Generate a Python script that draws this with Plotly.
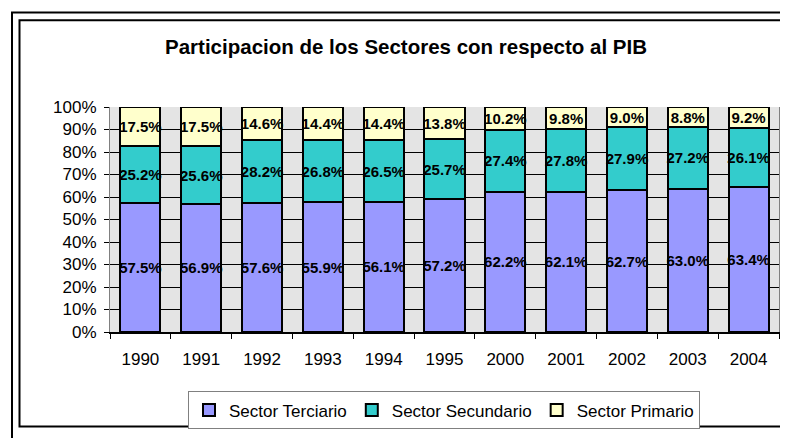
import plotly.graph_objects as go

years = ["1990", "1991", "1992", "1993", "1994", "1995", "2000", "2001", "2002", "2003", "2004"]
terciario = [57.5, 56.9, 57.6, 55.9, 56.1, 57.2, 62.2, 62.1, 62.7, 63.0, 63.4]
secundario = [25.2, 25.6, 28.2, 26.8, 26.5, 25.7, 27.4, 27.8, 27.9, 27.2, 26.1]
primario = [17.5, 17.5, 14.6, 14.4, 14.4, 13.8, 10.2, 9.8, 9.0, 8.8, 9.2]

series = [
    ("Sector Terciario", terciario, "#9999FF"),
    ("Sector Secundario", secundario, "#33CCCC"),
    ("Sector Primario", primario, "#FFFFCC"),
]

FONT = "Arial, Liberation Sans, sans-serif"
OFF = 8  # page body margin
W, H = 788 - OFF, 438 - OFF
# plot area in screen pixels: x 110..779, y 107..338
L, T = 110 - OFF, 107 - OFF
R, B = W - (779 - OFF), H - (338 - OFF)
pw, ph = W - L - R, H - T - B

def px_x(v):
    return (v - OFF - L) / pw

def px_y(v):
    return (H - B - (v - OFF)) / ph

fig = go.Figure()
for name, vals, col in series:
    fig.add_trace(go.Bar(
        x=years, y=vals, name=name,
        marker=dict(color=col, line=dict(color="black", width=2)),
        text=[f"{v:.1f}%" for v in vals],
        textposition="inside", insidetextanchor="middle",
        textangle=0, constraintext="none",
        textfont=dict(family=FONT, size=15, color="black", weight="bold"),
        hoverinfo="skip",
    ))

shapes = [
    dict(type="rect", xref="paper", yref="paper",
         x0=px_x(12), x1=px_x(830), y0=px_y(10), y1=px_y(470),
         line=dict(color="black", width=2), layer="below"),
    dict(type="rect", xref="paper", yref="paper",
         x0=px_x(19.5), x1=px_x(830), y0=px_y(18), y1=px_y(435),
         line=dict(color="black", width=2), layer="below"),
]

fig.update_layout(
    width=W, height=H,
    margin=dict(l=L, r=R, t=T, b=B),
    barmode="stack", barnorm="percent", bargap=0.34,
    paper_bgcolor="white", plot_bgcolor="#E4E4E4",
    font=dict(family=FONT, size=17, color="black"),
    title=dict(text="<b>Participacion de los Sectores con respecto al PIB</b>",
               xref="paper", x=px_x(406), xanchor="center",
               yref="container", y=1 - (47 - OFF) / H, yanchor="middle",
               font=dict(family=FONT, size=20.5, color="black")),
    showlegend=True,
    legend=dict(orientation="h", xref="paper", x=px_x(444), xanchor="center",
                y=px_y(399), yanchor="top",
                bgcolor="white", bordercolor="#808080", borderwidth=1,
                font=dict(family=FONT, size=17, color="black"),
                traceorder="normal"),
    shapes=shapes,
)
fig.update_yaxes(range=[0, 100], dtick=10, ticksuffix="%",
                 showgrid=True, gridcolor="black", gridwidth=1,
                 ticks="outside", ticklen=5, tickcolor="black",
                 ticklabelstandoff=4,
                 showline=True, linecolor="#808080", linewidth=1, mirror=True,
                 zeroline=False, tickfont=dict(size=17))
fig.update_xaxes(type="category", tickson="boundaries",
                 ticks="outside", ticklen=5, tickcolor="black",
                 ticklabelstandoff=11,
                 showline=True, linecolor="black", linewidth=2,
                 showgrid=False, tickfont=dict(size=17))

fig.write_html("out.html")
